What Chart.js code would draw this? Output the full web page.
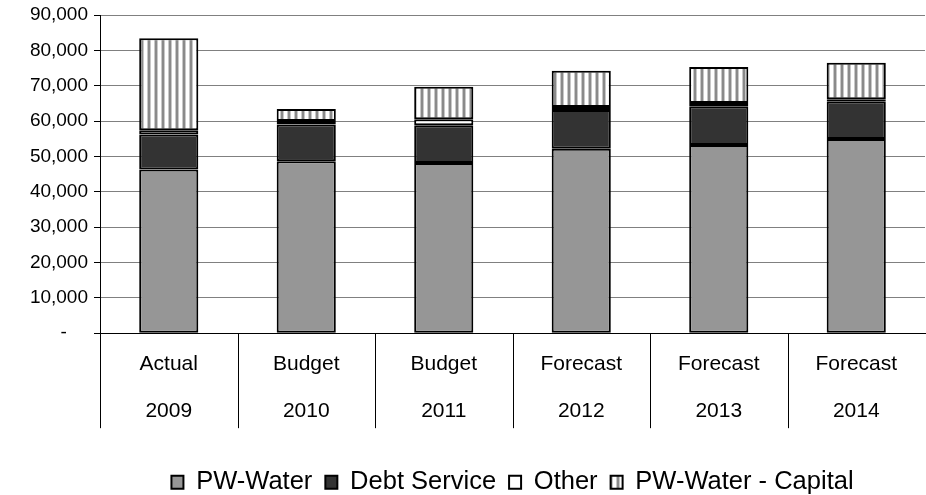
<!DOCTYPE html>
<html>
<head>
<meta charset="utf-8">
<script src="https://cdn.jsdelivr.net/npm/chart.js@4"></script>
<style>
    html, body { margin: 0; padding: 0; background: #fff; }
    #grafico { display: block; }
</style>
</head>
<body>
<canvas id="grafico" width="926" height="495"></canvas>
<script>
const categorias = [['Actual', '2009'], ['Budget', '2010'], ['Budget', '2011'], ['Forecast', '2012'], ['Forecast', '2013'], ['Forecast', '2014']];
const pwWater = [46300, 48600, 48100, 52200, 53200, 54900];
const debtService = [9900, 10400, 10700, 10900, 11000, 10700];
const other = [1200, 1000, 1700, 900, 900, 600];
const pwWaterCapital = [26000, 3400, 9200, 10200, 10200, 10300];
const ticksY = [0, 10000, 20000, 30000, 40000, 50000, 60000, 70000, 80000, 90000];

const fonte = 'Liberation Sans, Arial, sans-serif';

// listras verticais para a série de capital
function criarListras() {
    const c = document.createElement('canvas');
    c.width = 7;
    c.height = 4;
    const ctx = c.getContext('2d');
    ctx.fillStyle = '#ffffff';
    ctx.fillRect(0, 0, 7, 4);
    ctx.fillStyle = '#c8c8c8';
    ctx.fillRect(0, 0, 1, 4);
    ctx.fillRect(3, 0, 1, 4);
    ctx.fillStyle = '#8a8a8a';
    ctx.fillRect(1, 0, 2, 4);
    return ctx.createPattern(c, 'repeat');
}

// linhas separadoras entre as categorias, abaixo do eixo x
const separadores = {
    id: 'separadores',
    afterDraw: function (chart) {
        const eixo = chart.scales.x;
        const ctx = chart.ctx;
        const passo = eixo.getPixelForValue(1) - eixo.getPixelForValue(0);
        ctx.save();
        ctx.strokeStyle = '#000';
        ctx.lineWidth = 1;
        ctx.beginPath();
        for (let i = 0; i < categorias.length; i++) {
            const x = Math.round(eixo.getPixelForValue(i) - passo / 2) + 0.5;
            ctx.moveTo(x, eixo.top);
            ctx.lineTo(x, eixo.top + 95);
        }
        ctx.stroke();
        ctx.restore();
    }
};

// legenda centrada sobre a área do gráfico e um pouco mais abaixo
const posicaoLegenda = {
    id: 'posicaoLegenda',
    afterLayout: function (chart) {
        const legenda = chart.legend;
        legenda.left = chart.chartArea.left;
        legenda.right = chart.chartArea.right;
        legenda.top += 22;
        legenda.bottom += 22;
    }
};

document.addEventListener('DOMContentLoaded', function () {
    const estiloBarra = {
        borderColor: '#000000',
        borderWidth: 2,
        borderSkipped: false,
        inflateAmount: 0,
        barPercentage: 0.43,
        categoryPercentage: 1
    };

    const dados = {
        labels: categorias,
        datasets: [
            Object.assign({ label: 'PW-Water', data: pwWater, backgroundColor: '#969696' }, estiloBarra),
            Object.assign({ label: 'Debt Service', data: debtService, backgroundColor: '#333333' }, estiloBarra),
            Object.assign({ label: 'Other', data: other, backgroundColor: '#ffffff' }, estiloBarra),
            Object.assign({ label: 'PW-Water - Capital', data: pwWaterCapital, backgroundColor: criarListras() }, estiloBarra)
        ]
    };

    const config = {
        type: 'bar',
        data: dados,
        plugins: [separadores, posicaoLegenda],
        options: {
            responsive: false,
            animation: false,
            layout: { padding: { top: 0, right: 1, left: 0, bottom: 12 } },
            plugins: {
                tooltip: { enabled: false },
                legend: {
                    position: 'bottom',
                    labels: {
                        color: '#000',
                        font: { size: 25.5, family: fonte },
                        boxWidth: 12,
                        boxHeight: 13,
                        padding: 13
                    }
                }
            },
            scales: {
                x: {
                    stacked: true,
                    border: { color: '#000', width: 1 },
                    grid: { display: false },
                    ticks: {
                        color: '#000',
                        padding: -1,
                        font: { size: 21, family: fonte, lineHeight: 2.27 },
                        maxRotation: 0
                    }
                },
                y: {
                    stacked: true,
                    min: 0,
                    max: 90000,
                    afterFit: function (scale) {
                        scale.width = 100;
                        scale.paddingTop = 15;
                    },
                    afterBuildTicks: function (scale) { scale.ticks = ticksY.map(function (v) { return { value: v }; }); },
                    border: { color: '#000', width: 1 },
                    grid: { color: '#808080', tickColor: '#000', tickLength: 6, lineWidth: 1 },
                    ticks: {
                        color: '#000',
                        padding: 6,
                        font: { size: 19, family: fonte },
                        callback: function (v) { return v === 0 ? '-\u00a0\u00a0\u00a0\u00a0' : v.toLocaleString('en-US'); }
                    }
                }
            }
        }
    };

    new Chart(document.getElementById('grafico'), config);
});
</script>
</body>
</html>
